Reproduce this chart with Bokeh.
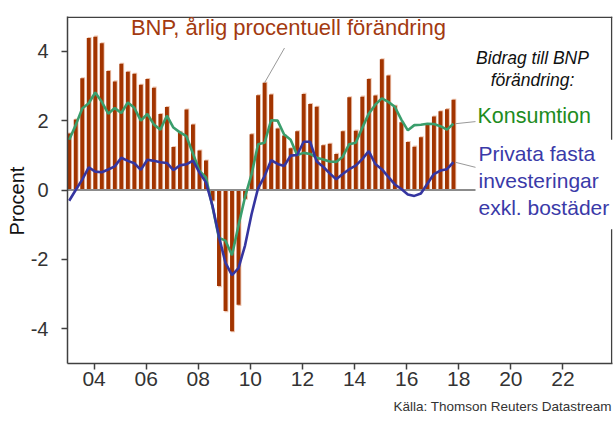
from bokeh.plotting import figure
from bokeh.models import Range1d, FixedTicker, Label, ColumnDataSource, Title
from bokeh.embed import file_html
from bokeh.resources import INLINE

# ---------------- data ----------------
quarters = [f"{y}Q{q}" for y in range(2003, 2018) for q in range(1, 5)]

gdp = [1.63, 2.03, 3.22, 4.38,
       4.42, 4.23, 3.43, 3.13,
       3.64, 3.41, 3.35, 3.03,
       3.20, 2.95, 2.19, 2.39,
       1.24, 1.68, 2.32, 1.89,
       1.14, 0.85, -0.30, -2.77,
       -3.49, -4.07, -3.31, -0.25,
       1.61, 2.73, 3.09, 2.75,
       1.77, 1.57, 1.20, 1.69,
       2.77, 2.48, 2.40, 1.29,
       1.33, 1.04, 1.69, 2.67,
       1.71, 2.69, 3.20, 2.72,
       3.77, 3.30, 2.43, 1.95,
       1.38, 1.25, 1.52, 1.88,
       2.12, 2.27, 2.33, 2.60]

konsumtion = [1.45, 1.87, 2.35, 2.50,
              2.81, 2.54, 2.20, 2.36,
              2.22, 2.52, 2.37, 2.00,
              2.19, 1.89, 1.74, 2.14,
              1.80, 1.66, 1.55, 1.05,
              0.55, 0.36, -0.48, -1.38,
              -1.46, -1.88, -1.02, -0.20,
              0.45, 1.32, 1.36, 2.01,
              2.00, 1.60, 1.45, 1.01,
              1.07, 1.04, 0.93, 0.88,
              0.82, 0.81, 0.96, 1.32,
              1.36, 1.79, 2.20, 2.46,
              2.64, 2.54, 2.40, 2.03,
              1.72, 1.87, 1.88, 1.91,
              1.90, 1.84, 1.74, 1.91]

investeringar = [-0.31, 0.00, 0.30, 0.65,
                 0.53, 0.51, 0.59, 0.68,
                 0.93, 0.84, 0.77, 0.58,
                 0.87, 0.84, 0.80, 0.78,
                 0.57, 0.71, 0.74, 0.85,
                 0.50, 0.22, -0.45, -1.35,
                 -2.10, -2.45, -2.25, -1.60,
                 -0.70, 0.05, 0.40, 0.86,
                 0.75, 0.69, 0.99, 1.01,
                 1.39, 1.39, 0.82, 0.67,
                 0.48, 0.31, 0.46, 0.60,
                 0.70, 0.89, 1.12, 0.75,
                 0.60, 0.38, 0.16, 0.03,
                 -0.13, -0.17, -0.10, 0.18,
                 0.46, 0.56, 0.60, 0.80]

tick_years = [2004, 2006, 2008, 2010, 2012, 2014, 2016, 2018, 2020, 2022]
tick_labels = ["04", "06", "08", "10", "12", "14", "16", "18", "20", "22"]
y_ticks = [-4, -2, 0, 2, 4]
y_tick_labels = ["-4", "-2", "0", "2", "4"]

# ---------------- layout helpers ----------------
FONT = "Liberation Sans"
X0 = 2002.98
PX_PER_YEAR = 26.05
FRAME_LEFT_PX = 67
FRAME_TOP_PX = 16
PX_PER_UNIT = 34.9
FRAME_W = 545
X1 = X0 + FRAME_W / PX_PER_YEAR
Y0, Y1 = -5, 5
LABEL_SHIFT = 8  # correction for where the text baseline lands


def px_x(px):
    return X0 + (px - FRAME_LEFT_PX) / PX_PER_YEAR


def px_y(py):
    return Y1 - (py - FRAME_TOP_PX) / PX_PER_UNIT


xs = [int(q[:4]) + (int(q[-1]) - 1) * 0.25 + 0.045 for q in quarters]
shadow_top = [v + (0.03 if v >= 0 else -0.03) for v in gdp]

src = ColumnDataSource(dict(x=xs, gdp=gdp, kons=konsumtion, inv=investeringar,
                            sx=[x + 0.035 for x in xs], stop=shadow_top))

BAR = "#A23400"
GREEN_LINE = "#3A9E6C"
BLUE_LINE = "#3535A0"
FRAME = "#404040"

p = figure(width=613, height=421, x_range=Range1d(X0, X1), y_range=Range1d(Y0, Y1),
           output_backend="svg", toolbar_location=None,
           min_border_left=67, min_border_right=1, min_border_top=16, min_border_bottom=56)
p.outline_line_color = None
p.grid.visible = False
p.background_fill_color = "white"
p.border_fill_color = "white"

# axes
p.xaxis.ticker = FixedTicker(ticks=tick_years)
p.xaxis.major_label_overrides = {t: l for t, l in zip(tick_years, tick_labels)}
p.yaxis.ticker = FixedTicker(ticks=y_ticks)
p.yaxis.major_label_overrides = {t: l for t, l in zip(y_ticks, y_tick_labels)}
for ax in (p.xaxis, p.yaxis):
    ax.axis_line_color = FRAME
    ax.axis_line_width = 1.5
    ax.major_tick_line_color = FRAME
    ax.major_tick_line_width = 1.5
    ax.major_tick_in = 0
    ax.major_tick_out = 6
    ax.minor_tick_line_color = None
    ax.major_label_text_font = FONT
    ax.major_label_text_color = "#333333"
    ax.major_label_text_font_size = "21px"
p.yaxis.major_label_standoff = 13
p.xaxis.major_label_standoff = 2
p.yaxis.major_label_text_font_size = "20px"

# y-axis title and source note as panel titles
p.add_layout(Title(text="Procent", align="left", offset=128, standoff=0,
                   text_font=FONT, text_font_size="20px", text_font_style="normal",
                   text_color="#111111"), "left")
p.add_layout(Title(text="Källa: Thomson Reuters Datastream", align="left", offset=326,
                   standoff=16, text_font=FONT, text_font_size="13.5px",
                   text_font_style="normal", text_color="#333333"), "below")

# frame top and right border (right border broken by the labels)
p.segment(x0=[X0, X1 - 0.03, X1 - 0.03], y0=[Y1 - 0.02, Y1, px_y(230)],
          x1=[X1, X1 - 0.03, X1 - 0.03], y1=[Y1 - 0.02, px_y(140), Y0],
          line_color=FRAME, line_width=1.5)

# bars with pale shadow
p.vbar(x="sx", top="stop", bottom=0, width=0.15, source=src,
       fill_color="#EDC4AE", line_color=None)
p.vbar(x="x", top="gdp", bottom=0, width=0.15, source=src,
       fill_color=BAR, line_color=None)

# zero line
p.line([X0, px_x(475)], [0, 0], line_color="#8C8C8C", line_width=2)

# lines
p.line("x", "kons", source=src, line_color=GREEN_LINE, line_width=2.6)
p.line("x", "inv", source=src, line_color=BLUE_LINE, line_width=2.6)

# connectors
p.line([px_x(284), xs[30]], [px_y(47.7), gdp[30]], line_color="#999999", line_width=1)
p.line([xs[-1] + 0.07, px_x(475)], [konsumtion[-1], px_y(121.7)],
       line_color="#999999", line_width=1)
p.line([xs[-1] + 0.07, px_x(475)], [investeringar[-1], px_y(167.7)],
       line_color="#999999", line_width=1)


def add_label(text, px, py, size, color, align="left", style="normal"):
    p.add_layout(Label(x=px_x(px), y=px_y(py - LABEL_SHIFT), text=text, text_font=FONT,
                       text_font_size=size, text_color=color, text_align=align,
                       text_baseline="alphabetic", text_font_style=style))


add_label("BNP, årlig procentuell förändring", 288, 35, "22px", "#A33A10", align="center")
add_label("Bidrag till BNP", 532, 66, "17.5px", "#111111", align="center", style="italic")
add_label("förändring:", 532, 88, "17.5px", "#111111", align="center", style="italic")
add_label("Konsumtion", 477, 124, "21.5px", "#1E8C1E")
add_label("Privata fasta", 478, 162, "21px", "#3A3AA8")
add_label("investeringar", 478, 189, "21px", "#3A3AA8")
add_label("exkl. bostäder", 478, 216, "21px", "#3A3AA8")

open("out.html", "w").write(file_html(p, INLINE))
